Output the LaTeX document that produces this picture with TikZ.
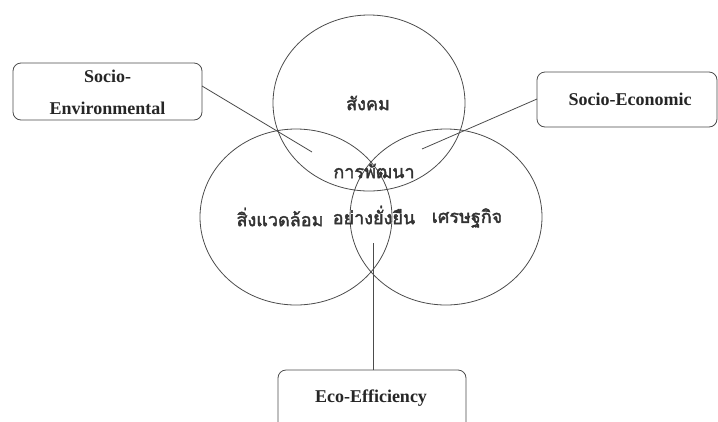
\documentclass[tikz,border=0pt]{standalone}
\usepackage{fontspec}
\setmainfont{Liberation Serif}
\newfontfamily\thaifont[Script=Thai,FakeBold=2]{Loma}
\usetikzlibrary{shapes.geometric}

\tikzset{
  ring/.style={draw=black!70, line width=0.8pt, ellipse, inner sep=0pt,
    minimum width=192pt, minimum height=176pt},
  thailabel/.style={font=\thaifont\fontsize{18}{20}\selectfont, text=black!80},
  infobox/.style={draw=black!70, line width=0.8pt, rounded corners=8pt, fill=white},
  boxtext/.style={font=\bfseries\fontsize{18}{32}\selectfont, text=black!85, align=center},
  pointer/.style={draw=black!70, line width=0.8pt}
}

\begin{document}
\begin{tikzpicture}[x=1pt,y=-1pt]
\useasboundingbox (0,0) rectangle (718,421);
\clip (0,0) rectangle (718,421);

% Circles
\node[ring] (society) at (369,103) {};
\node[ring] (environment) at (296,217) {};
\node[ring] (economy) at (446,217) {};

% Circle labels
\node[thailabel] (lsociety) at (368,103) {สังคม};
\node[thailabel] (lenvironment) at (280,217) {สิ่งแวดล้อม};
\node[thailabel] (leconomy) at (467,218) {เศรษฐกิจ};
\node[thailabel] (ldev) at (374,171) {การพัฒนา};
\node[thailabel] (lsustain) at (374,215) {อย่างยั่งยืน};

% Boxes
\draw[infobox] (13,63) rectangle (202,120);
\node[boxtext] (socenv) at (107.5,92) {Socio-\\Environmental};
\draw[infobox] (537,72) rectangle (717,127);
\node[boxtext] (socecon) at (630,99) {Socio-Economic};
\draw[infobox] (278,370) rectangle (466,440);
\node[boxtext] (ecoeff) at (371,398) {Eco-Efficiency};

% Pointers
\coordinate (psocenv) at (312,152);
\coordinate (psocecon) at (422,149);
\coordinate (pecoeff) at (373,243);
\draw[pointer] (202,86) -- (psocenv);
\draw[pointer] (537,99) -- (psocecon);
\draw[pointer] (373,370) -- (pecoeff);

\end{tikzpicture}
\end{document}
